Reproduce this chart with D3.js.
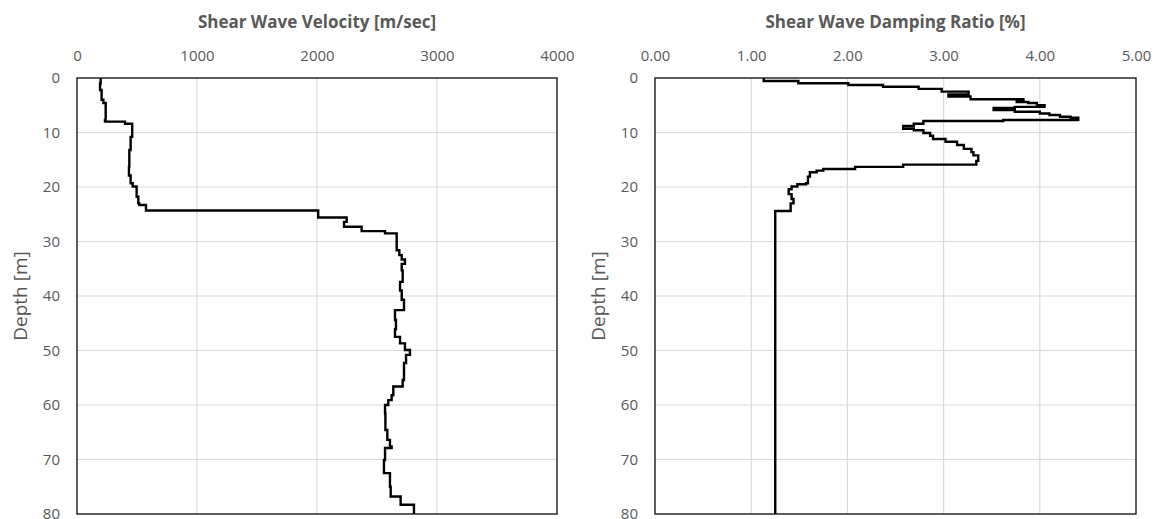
<!DOCTYPE html>
<html>
<head>
<meta charset="utf-8">
<script src="https://cdn.jsdelivr.net/npm/d3@7"></script>
<style>
  html, body { margin: 0; padding: 0; background: #fff; }
  svg { display: block; }
  text { font-family: "Open Sans", "Noto Sans", sans-serif; fill: #595959; }
</style>
</head>
<body>
<svg id="chart" width="1158" height="519"></svg>
<script>
// ---- Data ----
// Shear wave velocity profile: layer top depth [m] and velocity [m/sec]
const vsTop = [0, 1.0, 2.2, 4.0, 4.6, 7.7, 8.0, 8.4, 10.8, 13.2, 16.3, 17.9, 19.3, 19.9, 21.8, 23.0, 23.3,
  24.3, 25.6, 26.4, 27.3, 28.1, 28.5, 31.6, 32.5, 33.3, 34.1, 35.3, 37.4, 39.0, 40.7, 42.6, 44.4, 46.1,
  47.5, 48.7, 49.9, 50.8, 52.3, 55.4, 56.6, 58.2, 59.1, 60.0, 61.5, 64.6, 66.4, 67.6, 67.9, 70.1, 72.5,
  75.0, 76.8, 78.3];
const vsVel = [197, 192, 205, 220, 239, 233, 400, 460, 447, 436, 433, 447, 464, 497, 511, 519, 575,
  2010, 2247, 2225, 2372, 2567, 2664, 2686, 2706, 2733, 2706, 2714, 2692, 2706, 2725, 2650, 2658, 2650,
  2692, 2733, 2775, 2742, 2725, 2714, 2636, 2622, 2594, 2567, 2570, 2586, 2608, 2622, 2567, 2558, 2608,
  2614, 2697, 2808];

// Shear wave damping ratio profile: layer top depth [m] and damping [%]
const dampTop = [0, 0.55, 0.97, 1.28, 1.6, 2.0, 2.5, 3.0, 3.4, 3.9, 4.2, 4.4, 4.6, 5.0, 5.3, 5.5, 5.9,
  6.2, 6.5, 6.8, 7.1, 7.3, 7.7, 7.9, 8.4, 8.8, 9.3, 9.6, 10.1, 10.6, 11.2, 11.7, 12.3, 13.0, 13.6, 14.2,
  15.2, 15.9, 16.3, 16.7, 17.0, 17.3, 18.1, 19.3, 19.5, 19.9, 20.4, 21.3, 22.2, 23.0, 24.4];
const dampVal = [1.13, 1.49, 2.01, 2.37, 2.74, 2.98, 3.26, 3.05, 3.28, 3.83, 3.76, 3.88, 3.97, 4.05, 3.74, 3.52, 3.74,
  4.0, 4.1, 4.21, 4.32, 4.40, 3.62, 2.79, 2.69, 2.58, 2.69, 2.79, 2.86, 2.89, 3.02, 3.14, 3.21, 3.29, 3.31, 3.36,
  3.34, 2.58, 2.08, 1.75, 1.68, 1.61, 1.59, 1.57, 1.48, 1.42, 1.39, 1.42, 1.44, 1.41, 1.25];

const maxDepth = 80;
const depthTicks = [0, 10, 20, 30, 40, 50, 60, 70, 80];
const vsTicks = [0, 1000, 2000, 3000, 4000];
const dampTicks = [0, 1, 2, 3, 4, 5];

// ---- Drawing ----
const svg = d3.select("#chart");
const plotTop = 78, plotBottom = 514;

function panel(opts) {
  const { x0, x1, domain, ticks, fmt, title, tops, vals, labelX } = opts;
  const g = svg.append("g");
  const x = d3.scaleLinear().domain(domain).range([x0, x1]);
  const y = d3.scaleLinear().domain([0, maxDepth]).range([plotTop, plotBottom]);

  // gridlines
  g.append("g").selectAll("line").data(ticks.slice(1, -1)).join("line")
    .attr("x1", d => x(d)).attr("x2", d => x(d)).attr("y1", plotTop).attr("y2", plotBottom)
    .attr("stroke", "#d9d9d9").attr("stroke-width", 1.2);
  g.append("g").selectAll("line").data(depthTicks.slice(1, -1)).join("line")
    .attr("y1", d => y(d)).attr("y2", d => y(d)).attr("x1", x0).attr("x2", x1)
    .attr("stroke", "#d9d9d9").attr("stroke-width", 1.2);

  // data line (step profile)
  const pts = tops.map((t, i) => [vals[i], t]);
  pts.push([vals[vals.length - 1], maxDepth]);
  const line = d3.line().x(d => x(d[0])).y(d => y(d[1])).curve(d3.curveStepBefore);
  g.append("path").datum(pts).attr("d", line)
    .attr("fill", "none").attr("stroke", "#000").attr("stroke-width", 2.4)
    .attr("stroke-linejoin", "miter");

  // border
  g.append("rect").attr("x", x0).attr("y", plotTop).attr("width", x1 - x0).attr("height", plotBottom - plotTop)
    .attr("fill", "none").attr("stroke", "#1a1a1a").attr("stroke-width", 1.4);

  // top axis
  const ax = d3.axisTop(x).tickValues(ticks).tickFormat(fmt).tickSize(0).tickPadding(17);
  const axg = g.append("g").attr("transform", `translate(0,${plotTop})`).call(ax);
  axg.select(".domain").remove();
  axg.selectAll("text").style("font-size", "15px").attr("fill", "#595959");

  // left axis
  const ay = d3.axisLeft(y).tickValues(depthTicks).tickSize(0).tickPadding(17);
  const ayg = g.append("g").attr("transform", `translate(${x0},0)`).call(ay);
  ayg.select(".domain").remove();
  ayg.selectAll("text").style("font-size", "15px").attr("fill", "#595959");

  // title
  g.append("text").attr("x", (x0 + x1) / 2).attr("y", 28).attr("text-anchor", "middle")
    .style("font-size", "17px").style("font-weight", "bold").attr("fill", "#595959").text(title);

  // y label
  g.append("text").attr("transform", `translate(${labelX},${(plotTop + plotBottom) / 2}) rotate(-90)`)
    .attr("text-anchor", "middle").style("font-size", "19px").attr("fill", "#595959").text("Depth [m]");
}

panel({ x0: 77, x1: 557, domain: [0, 4000], ticks: vsTicks, fmt: d3.format("d"),
  title: "Shear Wave Velocity [m/sec]", tops: vsTop, vals: vsVel, labelX: 27 });
panel({ x0: 655, x1: 1136, domain: [0, 5], ticks: dampTicks, fmt: d3.format(".2f"),
  title: "Shear Wave Damping Ratio [%]", tops: dampTop, vals: dampVal, labelX: 605 });
</script>
</body>
</html>
